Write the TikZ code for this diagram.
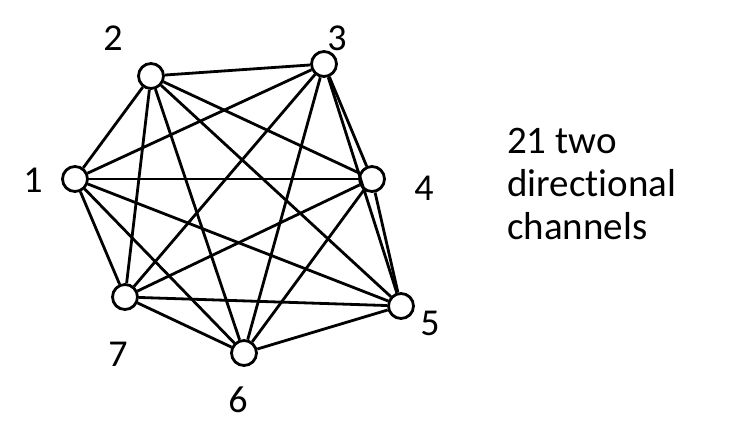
\documentclass[tikz,border=0pt]{standalone}
\usepackage{fontspec}
\setmainfont{Carlito}[Ligatures=NoCommon]
\begin{document}
\begin{tikzpicture}[x=1pt,y=-1pt]
		\tikzset{vertex/.style = {circle, draw, line width=2.8pt, minimum size=25pt, inner sep=0pt}}
		\tikzset{edge/.style = {line width=2.8pt}}
		\tikzset{label/.style = {font=\fontsize{38}{43}\selectfont}}
		
		\useasboundingbox (0,0) rectangle (742,444);
		
		\node[vertex]  (1) at ( 75, 179) {};
		\node[vertex]  (2) at (151,  76) {};
		\node[vertex]  (3) at (324,  64) {};
		\node[vertex]  (4) at (372, 179) {};
		\node[vertex]  (5) at (401, 306) {};
		\node[vertex]  (6) at (244, 353) {};
		\node[vertex]  (7) at (125, 297) {};
		
		\node[label]  (l1) at ( 33, 180) {1};
		\node[label]  (l2) at (113,  38) {2};
		\node[label]  (l3) at (337,  38) {3};
		\node[label]  (l4) at (424, 188) {4};
		\node[label]  (l5) at (430, 323) {5};
		\node[label]  (l6) at (238, 400) {6};
		\node[label]  (l7) at (118, 354) {7};
		
		\node[anchor=base west, align=left, inner sep=0pt,
		      font=\fontsize{39}{43}\selectfont] (txt) at (507, 239)
		      {21 two\\directional\\channels};
		
		\draw[edge] (1) to  (2);
		\draw[edge] (1) to  (3);
		\draw[edge] (1) to  (4);
		\draw[edge] (1) to  (5);
		\draw[edge] (1) to  (6);
		\draw[edge] (1) to  (7);
		\draw[edge] (2) to  (3);
		\draw[edge] (2) to  (4);
		\draw[edge] (2) to  (5);
		\draw[edge] (2) to  (6);
		\draw[edge] (2) to  (7);
		\draw[edge] (3) to  (4);
		\draw[edge] (3) to  (5);
		\draw[edge] (3) to  (6);
		\draw[edge] (3) to  (7);
		\draw[edge] (4) to  (5);
		\draw[edge] (4) to  (6);
		\draw[edge] (4) to  (7);
		\draw[edge] (5) to  (6);
		\draw[edge] (5) to  (7);
		\draw[edge] (6) to  (7);
\end{tikzpicture}
\end{document}
